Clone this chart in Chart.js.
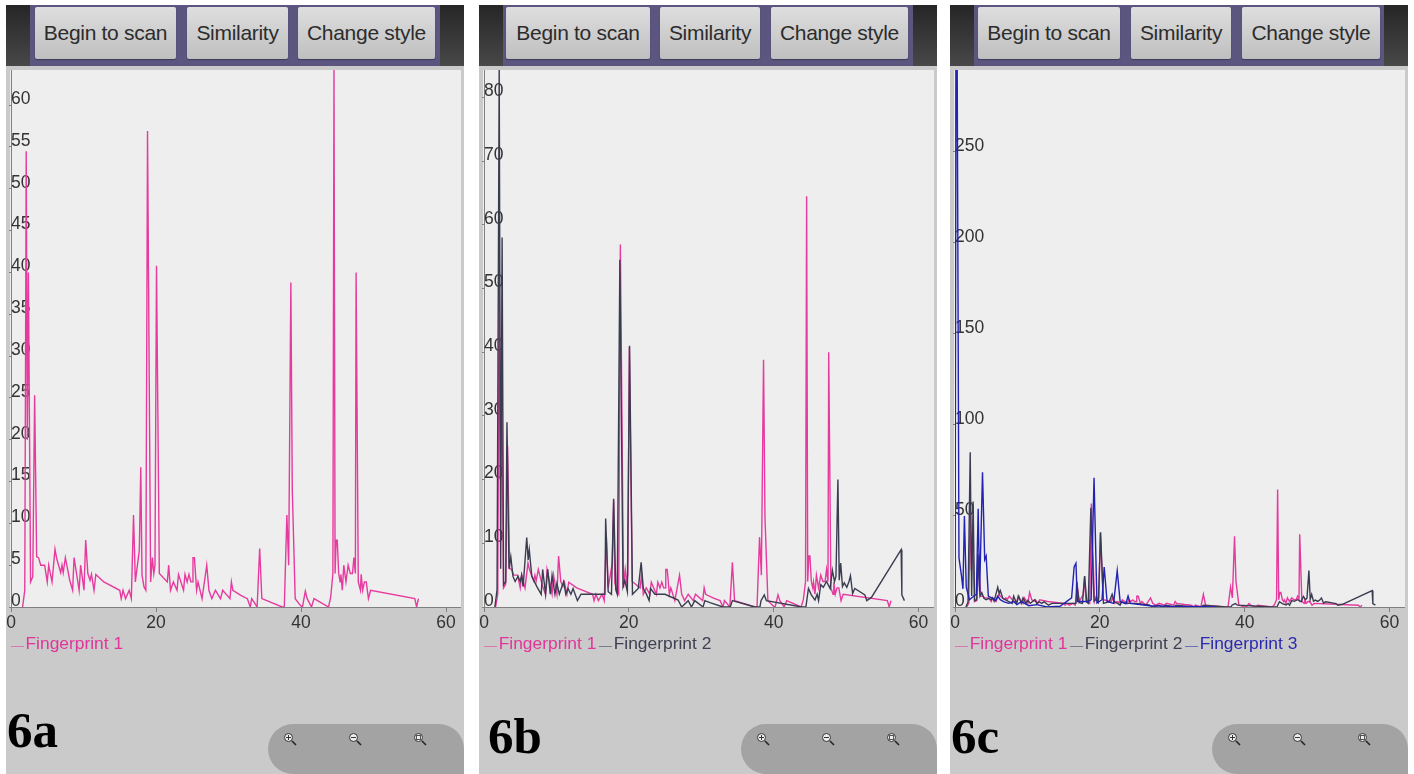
<!DOCTYPE html>
<html>
<head>
<meta charset="utf-8">
<script src="https://cdn.jsdelivr.net/npm/chart.js@4"></script>
<style>
html, body { margin: 0; padding: 0; background: #fff; width: 1414px; height: 774px; overflow: hidden; font-family: "Liberation Sans", sans-serif; }
.panel { position: absolute; top: 5px; width: 458px; height: 769px; background: #cacaca; }
.head { position: absolute; left: 0; top: 0; width: 100%; height: 61px; background: linear-gradient(#262626, #484848); }
.bar { position: absolute; top: 0; left: 24px; width: 410px; height: 61px; background: #5a5680; }
.btn { position: absolute; top: 2px; height: 52px; line-height: 52px; text-align: center; color: #2c2c2c; font-size: 21px; letter-spacing: -0.3px;
  background: linear-gradient(#dedede, #bfbfbf); box-shadow: 0 1px 1px #3c3a58; border-radius: 2px; }
.plot { position: absolute; top: 65px; left: 4px; width: 451px; height: 537px; background: #eeeeee; }
.mark { position: absolute; font: bold 51px "Liberation Serif", serif; color: #000; }
.pill { position: absolute; left: 262px; top: 719px; width: 196px; height: 50px; background: #a3a3a3; border-radius: 26px 26px 0 26px / 26px 26px 0 26px; }
.pill svg { position: absolute; top: 8px; }
canvas { position: absolute; }
.lg { position: absolute; top: 628px; font-size: 17.4px; line-height: 20px; white-space: nowrap; }
.lg i { position: absolute; top: 13px; height: 1px; width: 13px; opacity: .55; }
</style>
</head>
<body>
<script>
var xTicks = [0, 20, 40, 60];
var yTicksA = [0, 5, 10, 15, 20, 25, 30, 35, 40, 45, 50, 55, 60];
var yTicksB = [0, 10, 20, 30, 40, 50, 60, 70, 80];
var yTicksC = [0, 50, 100, 150, 200, 250];

var names = ["Fingerprint 1", "Fingerprint 2", "Fingerprint 3"];
var buttons = ["Begin to scan", "Similarity", "Change style"];

var fp1X = [1.6,1.9,2.1,2.25,2.4,2.7,3.0,3.26,3.54,3.8,4.1,4.64,5.0,5.2,5.66,6.07,6.3,6.85,7.03,7.2,7.5,8.1,8.5,8.7,9.4,9.6,10.07,10.3,10.6,10.9,11.1,11.45,11.7,12.8,15,15.2,15.45,15.8,16.3,16.6,16.9,17.15,17.7,17.9,18.07,18.35,18.6,18.83,19.26,19.5,19.7,19.86,20.07,20.46,21.56,21.75,22,22.4,22.9,23.1,23.8,24,24.3,24.55,24.8,25,25.1,25.3,25.6,25.8,26.35,27,27.3,27.7,28.2,28.9,29.2,30.2,30.4,30.6,31.7,32.6,33,33.2,33.95,34.3,34.6,37.4,37.7,38.05,38.3,38.6,38.8,39.2,39.9,40.2,40.6,40.85,41.45,41.8,43.8,44.1,44.4,44.55,44.7,44.85,45,45.2,45.4,45.5,45.7,45.9,46.2,46.5,46.8,47.1,47.3,47.5,47.6,47.9,48.2,48.3,48.5,48.75,49,49.3,49.6,55.7,55.95,56.2];
var fp1Y = [0,2,54.5,20,40,3,3.6,25.3,6,5.9,5,5,3,5,3,6.9,5.8,4.1,5,4.1,5.9,3.2,2,5.9,2,5,2,8,4,3.2,3.9,2,3.9,3,2,1,2,1,2,1,11,3,6.8,16.7,3.8,2.4,2,56.9,3,5.9,4,5,40.8,4,3,5,2,3,2,3.9,2,3.9,3,3.9,3,3,5.9,5.9,2,3,1,5,2,1,2,1,2,1,3,2,1.4,1,0,1,0,7,1,0,0,11,5,38.8,14,1,0.2,0,1.9,1,0,1,0,1.2,4,64.5,4,8,8,4,3,3.9,2,5,3,5,4,4,5.9,4,40,3,2,3.9,2,3,3,1,2,1,0,1];

var fp2X = [1.5,1.8,2.1,2.3,2.5,2.7,3.0,3.17,3.45,3.7,4,4.3,4.7,5,5.2,5.4,5.9,6.1,6.25,6.6,7.3,7.9,8.1,8.5,8.8,9.15,9.4,9.8,10.07,10.4,11,11.3,11.6,12,12.3,12.9,13.4,16.7,16.8,17.15,17.6,17.9,18.2,18.4,18.76,19.2,19.45,19.8,20.1,20.5,21.3,21.7,22,22.4,22.8,23,23.6,25,26.8,27.3,28.2,28.65,29.1,30.25,30.5,31.2,33,34,34.3,37.4,38.1,38.25,38.7,39,43.85,44.45,44.8,45.2,45.7,46,46.2,46.5,46.85,47.3,47.8,48.1,48.4,48.6,48.87,49.05,49.25,49.5,49.75,50.1,50.4,50.6,50.9,51.2,52.6,52.85,53.5,57.6,57.7,58.05];
var fp2Y = [0,2.7,85,6,58,3.5,4,29,6,7.9,4.8,4,4.8,4,5,3.2,10.9,7.4,9,4.8,3.2,2,5.9,2,5.9,2,5,2,3.7,2,4,2,2.9,2,2.9,1,2,2,13.9,2.4,2,17,2.7,2,54.5,3.2,4.2,2.4,41,2,2.9,7,2.9,2.1,1,2.9,2,2,1.1,0,1,0,1,0,1,0.7,0,0,1,0,0,1,1.9,1,0,0,2.9,1.9,1.1,2,1,3.5,3.1,4,2.9,5.8,4,4.8,20,4.2,6.9,3.2,3.8,3.1,4,4.9,2.1,2.9,1.9,1,1.5,9,1.9,1];

var fp3X = [0,0.15,0.3,0.55,0.9,1.1,1.3,1.55,2,2.6,2.95,3.2,3.4,3.8,4.1,4.3,4.6,5.3,5.6,5.9,6.25,6.7,7.4,8.1,8.55,9.2,10.2,11.3,12.7,14.5,16.1,16.45,16.7,16.9,18.4,18.8,19.2,19.6,20.3,20.6,21,21.9,22.4,22.8,23.6,23.9,24.2,26.9,31,33,36];
var fp3Y = [0,300,300,27,17,10,50,11,4,6,7,54,8.5,74,26,28,6,4.5,3.5,6,4,3,2,3,1.3,3,0.7,1.3,0,0.4,5,22,24,3,3,4,71,2.2,4,22,3,2,20,3,1.8,6,2,0.7,0.2,0.3,0];

var lineColors = ["#e63a9e", "#3a3c50", "#2222b4"];
var textColors = ["#e0359a", "#3f4052", "#2a2ab0"];
var series = [[fp1X, fp1Y], [fp2X, fp2Y], [fp3X, fp3Y]];

function points(pair) {
  return pair[0].map(function(x, i) { return { x: x, y: pair[1][i] }; });
}

function addPanel(cfg) {
  var p = document.createElement("div");
  p.className = "panel";
  p.style.left = cfg.left + "px";
  var head = '<div class="head"><div class="bar"></div>';
  buttons.forEach(function(b, i) {
    head += '<div class="btn" style="left:' + cfg.btnLeft[i] + 'px;width:' + cfg.btnWidth[i] + 'px">' + b + '</div>';
  });
  head += '</div><div class="plot"></div>';
  head += '<div class="mark" style="left:' + cfg.markLeft + 'px;top:' + cfg.markTop + 'px">' + cfg.mark + '</div>';
  head += '<div class="pill">';
  [15, 80, 145].forEach(function(x, i) {
    var inner = i == 0 ? '<path d="M3 5.5h5M5.5 3v5" stroke="#333" stroke-width="1"/>' : i == 1 ? '<path d="M3 5.5h5" stroke="#333" stroke-width="1"/>' : '<rect x="3.5" y="3.5" width="4" height="4" fill="none" stroke="#555" stroke-width="1"/>';
    head += '<svg style="left:' + x + 'px" width="14" height="14"><circle cx="5.5" cy="5.5" r="4" fill="#eee" stroke="#333" stroke-width="1"/>' + inner + '<path d="M9 9l4 4" stroke="#222" stroke-width="1.6"/></svg>';
  });
  head += '</div>';
  p.innerHTML = head;

  var c = document.createElement("canvas");
  c.width = 480;
  c.height = 574;
  c.style.left = (cfg.axisX - 12 - cfg.left) + "px";
  c.style.top = "61px";
  p.appendChild(c);

  var n = cfg.count;
  var lg = "";
  for (var i = 0; i < n; i++) {
    var lx = cfg.axisX - cfg.left + i * 115;
    lg += '<div class="lg" style="left:' + (lx + 15) + 'px;color:' + textColors[i] + '"><i style="left:-15px;background:' + lineColors[i] + '"></i>' + names[i] + '</div>';
  }
  p.insertAdjacentHTML("beforeend", lg);
  document.body.appendChild(p);

  var sets = [];
  for (var s = 0; s < n; s++) {
    sets.push({
      label: names[s],
      data: points(series[s]),
      borderColor: lineColors[s],
      borderWidth: 1.4,
      pointRadius: 0,
      tension: 0,
      order: n - s
    });
  }

  new Chart(c.getContext("2d"), {
    type: "line",
    data: { datasets: sets },
    options: {
      responsive: false,
      animation: false,
      layout: { padding: { left: 12, top: 4, right: 480 - 12 - cfg.plotW, bottom: 0 } },
      plugins: { legend: { display: false }, tooltip: { enabled: false } },
      scales: {
        x: {
          type: "linear",
          min: 0,
          max: 62,
          afterBuildTicks: function(s) { s.ticks = xTicks.map(function(v) { return { value: v }; }); },
          afterFit: function(s) { s.height = 33; s.paddingLeft = 0; s.paddingRight = 0; },
          border: { color: "#808080", width: 1 },
          grid: { drawOnChartArea: false, color: "#808080", tickLength: 5 },
          ticks: { color: "#333", padding: 1, maxRotation: 0, autoSkip: false, font: { size: 17.5, family: "Liberation Sans" } }
        },
        y: {
          min: 0,
          max: cfg.yMax,
          afterBuildTicks: function(s) { s.ticks = cfg.yTicks.map(function(v) { return { value: v }; }); },
          afterFit: function(s) { s.width = 0; s.paddingTop = 0; s.paddingBottom = 0; },
          border: { color: "#808080", width: 1 },
          grid: { drawOnChartArea: false, color: "#808080", tickLength: 2 },
          ticks: { mirror: true, color: "#333", padding: 0, labelOffset: -6, autoSkip: false, font: { size: 17.5, family: "Liberation Sans" } }
        }
      }
    }
  });
}

addPanel({ left: 6, axisX: 10.5, plotW: 449.5, yMax: 64.2, yTicks: yTicksA, count: 1, mark: "6a", markLeft: 1, markTop: 696,
  btnLeft: [29, 181, 292], btnWidth: [141, 101, 137] });
addPanel({ left: 479, axisX: 483.7, plotW: 449, yMax: 84.3, yTicks: yTicksB, count: 2, mark: "6b", markLeft: 9, markTop: 702,
  btnLeft: [27, 181, 292], btnWidth: [144, 100, 137] });
addPanel({ left: 950, axisX: 954.7, plotW: 449, yMax: 295, yTicks: yTicksC, count: 3, mark: "6c", markLeft: 1, markTop: 702,
  btnLeft: [28, 181, 292], btnWidth: [142, 100, 138] });
</script>
</body>
</html>
